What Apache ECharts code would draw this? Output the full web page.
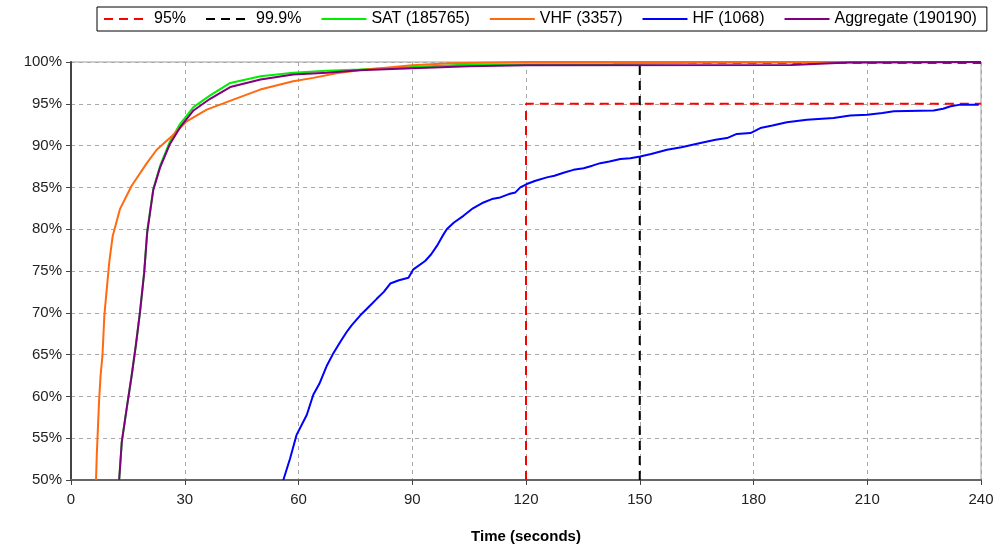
<!DOCTYPE html>
<html>
<head>
<meta charset="utf-8">
<script src="https://cdn.jsdelivr.net/npm/echarts@6/dist/echarts.min.js"></script>
<style>
html,body{margin:0;padding:0;background:#fff;}
#chart{width:998px;height:549px;}
</style>
</head>
<body>
<div id="chart"></div>
<script>
// Tick settings
const xTicks = [0, 30, 60, 90, 120, 150, 180, 210, 240];
const yTicks = [50, 55, 60, 65, 70, 75, 80, 85, 90, 95, 100];

// Series names
const seriesNames = ['95%', '99.9%', 'SAT (185765)', 'VHF (3357)', 'HF (1068)', 'Aggregate (190190)'];

// Threshold guide lines [time, percent]
const line95 = [[120, 50], [120, 95], [240, 95]];
const line999 = [[150, 50], [150, 99.9], [240, 99.9]];

// SAT cumulative percentage [time (s), percent]
const satData = [[12.7,50],[13.4,54.6],[14.7,58.6],[16,62.5],[17.1,66.1],[18.2,70.1],[19.3,74.8],[20.1,79.8],[21.7,84.8],[23.5,87.6],[26.1,90.5],[28.8,92.6],[32.3,94.6],[36.7,96.0],[42,97.5],[50,98.3],[58.6,98.7],[67.5,98.95],[76,99.1],[90,99.4],[105,99.7],[143,99.75],[165,99.9],[240,100]];

// VHF cumulative percentage
const vhfData = [[6.6,50],[6.8,53],[7.4,59.4],[7.8,62.5],[8.3,64.9],[8.8,69.7],[9.2,71.7],[10.1,76.1],[11,79.2],[12.9,82.4],[16,85.2],[20,87.9],[22.6,89.5],[27,91.3],[30.5,92.9],[35.8,94.3],[42.8,95.5],[49.9,96.7],[58.6,97.7],[63.9,98.1],[70,98.65],[76,99.0],[90,99.6],[100,99.85],[120,100],[240,100]];

// HF cumulative percentage
const hfData = [[56,50],[57.8,52.6],[59.5,55.4],[62.2,57.8],[63.9,60.2],[65.5,61.5],[67.5,63.7],[69,65.0],[71,66.5],[72.7,67.7],[74,68.5],[76.3,69.7],[78.5,70.7],[80.7,71.7],[82.5,72.5],[84.2,73.5],[86.5,73.9],[89,74.2],[90.3,75.2],[93.4,76.2],[95,77.0],[96.5,78],[98,79.2],[99.1,80],[101,80.8],[103.5,81.6],[106,82.5],[108.8,83.2],[111,83.6],[113.2,83.8],[115.5,84.2],[117.2,84.4],[118.5,85],[120.2,85.4],[122.5,85.8],[125.5,86.2],[127.5,86.4],[129.9,86.75],[132.5,87.1],[135.2,87.3],[137.5,87.6],[139.6,87.9],[142,88.1],[144.9,88.4],[147.5,88.5],[150.1,88.7],[153,89.0],[157.2,89.5],[161,89.8],[166,90.3],[170,90.7],[173,90.9],[175.6,91.4],[179.2,91.5],[181.8,92.1],[185,92.4],[188.8,92.8],[194.1,93.1],[201.1,93.3],[205.5,93.6],[210,93.7],[214,93.9],[217,94.1],[227.5,94.2],[230,94.4],[232,94.7],[234.6,94.9],[239.4,94.9]];

// Aggregate cumulative percentage
const aggData = [[12.7,50],[13.4,54.6],[14.7,58.6],[16,62.5],[17.1,66.1],[18.2,70.1],[19.3,74.8],[20.1,79.6],[21.7,84.7],[23.5,87.4],[26.1,90.2],[28.8,92.2],[32.3,94.2],[36.7,95.6],[42,97.0],[50,97.9],[58.6,98.5],[67.5,98.7],[76,99.0],[90,99.25],[105,99.5],[120,99.6],[190,99.65],[205,99.95],[240,100]];

const colors = ['#ff0000', '#000000', '#00ee00', '#ff6a10', '#0000ff', '#800080'];
const FONT = 'Liberation Sans';

const chart = echarts.init(document.getElementById('chart'), null, {renderer: 'canvas'});

function mkLine(name, data, color, dashed, z) {
  return {
    name: name,
    type: 'line',
    data: data,
    symbol: 'none',
    smooth: false,
    z: z,
    lineStyle: {color: color, width: 2, type: dashed ? [9, 6] : 'solid'},
    itemStyle: {color: color},
    emphasis: {disabled: true}
  };
}

chart.setOption({
  animation: false,
  backgroundColor: '#ffffff',
  color: colors,
  legend: {
    left: 97,
    top: 7,
    padding: [4, 10, 4, 6],
    borderColor: '#000',
    borderWidth: 1,
    itemWidth: 45,
    itemHeight: 14,
    itemGap: 19,
    itemStyle: {color: 'rgba(0,0,0,0)', borderWidth: 0, opacity: 0},
    textStyle: {fontFamily: FONT, fontSize: 16, color: '#000'},
    data: seriesNames
  },
  grid: {
    left: 71,
    right: 17,
    top: 62,
    bottom: 67,
    show: true,
    borderColor: '#a0a0a0',
    borderWidth: 1,
    containLabel: false
  },
  xAxis: {
    type: 'value',
    min: xTicks[0],
    max: xTicks[xTicks.length - 1],
    interval: 30,
    name: 'Time (seconds)',
    nameLocation: 'middle',
    nameGap: 49,
    nameTextStyle: {fontFamily: FONT, fontSize: 15, fontWeight: 'bold', color: '#000'},
    axisLine: {show: true, lineStyle: {color: '#666', width: 2}},
    axisTick: {show: true, length: 5, lineStyle: {color: '#444'}},
    axisLabel: {fontFamily: FONT, fontSize: 15, color: '#222', margin: 12},
    splitLine: {show: true, lineStyle: {color: '#a8a8a8', type: [4, 4], width: 1}}
  },
  yAxis: {
    type: 'value',
    min: yTicks[0],
    max: yTicks[yTicks.length - 1],
    interval: 5,
    axisLine: {show: true, lineStyle: {color: '#444', width: 2}},
    axisTick: {show: true, length: 5, lineStyle: {color: '#444'}},
    axisLabel: {fontFamily: FONT, fontSize: 15, color: '#222', margin: 9, formatter: '{value}%'},
    splitLine: {show: true, lineStyle: {color: '#a8a8a8', type: [4, 4], width: 1}}
  },
  series: [
    mkLine(seriesNames[0], line95, colors[0], true, 2),
    mkLine(seriesNames[1], line999, colors[1], true, 2),
    mkLine(seriesNames[2], satData, colors[2], false, 3),
    mkLine(seriesNames[3], vhfData, colors[3], false, 4),
    mkLine(seriesNames[4], hfData, colors[4], false, 5),
    mkLine(seriesNames[5], aggData, colors[5], false, 6)
  ]
});
</script>
</body>
</html>
